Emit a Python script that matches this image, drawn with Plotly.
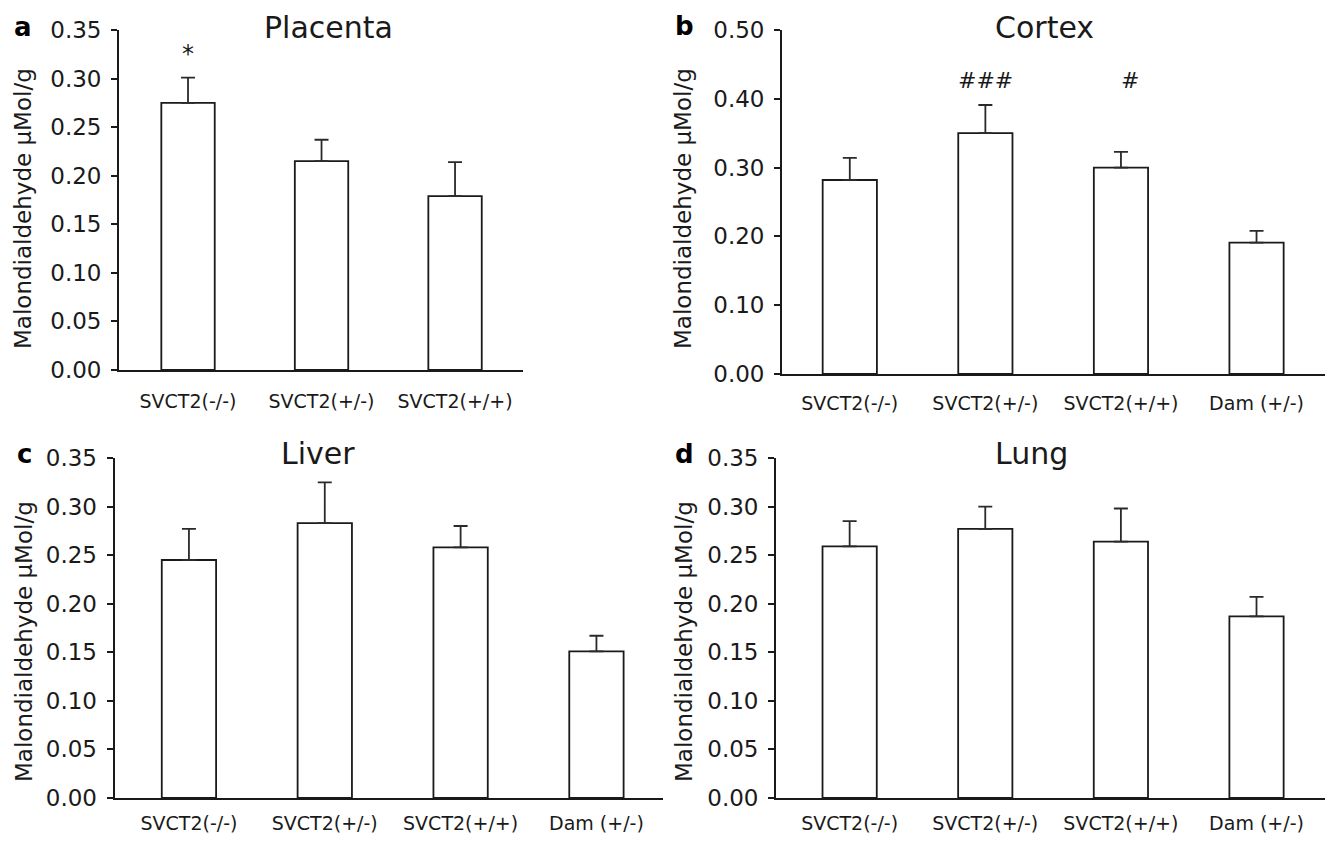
import plotly.graph_objects as go

# ---------------- data ----------------
categories_3 = ["SVCT2(-/-)", "SVCT2(+/-)", "SVCT2(+/+)"]
categories_4 = ["SVCT2(-/-)", "SVCT2(+/-)", "SVCT2(+/+)", "Dam (+/-)"]

placenta_mean = [0.275, 0.215, 0.179]
placenta_sem = [0.026, 0.022, 0.035]

cortex_mean = [0.282, 0.350, 0.300, 0.191]
cortex_sem = [0.032, 0.041, 0.023, 0.017]

liver_mean = [0.245, 0.283, 0.258, 0.151]
liver_sem = [0.032, 0.042, 0.022, 0.016]

lung_mean = [0.259, 0.277, 0.264, 0.187]
lung_sem = [0.026, 0.023, 0.034, 0.020]

y_ticks_035 = [0.00, 0.05, 0.10, 0.15, 0.20, 0.25, 0.30, 0.35]
y_ticks_050 = [0.00, 0.10, 0.20, 0.30, 0.40, 0.50]

y_title = "Malondialdehyde μMol/g"

# ---------------- layout helpers ----------------
PAGE_MARGIN = 8          # default <body> margin of the html page
FW, FH = 1335 - 2 * PAGE_MARGIN, 844 - 2 * PAGE_MARGIN
FONT = "DejaVu Sans"
INK = "#1a1a1a"


def px_x(v):
    return (v - PAGE_MARGIN) / FW


def px_y(v):
    return 1 - (v - PAGE_MARGIN) / FH


panels = [
    # key, title, letter, categories, mean, sem, yticks, x-range,
    # plot x px, plot y px, title centre, letter centre, ytitle centre, label standoff
    ("", "Placenta", "a", categories_3, placenta_mean, placenta_sem, y_ticks_035,
     [-0.517, 2.509], (119, 523), (30, 370), (328, 28), (23, 27.5), (23, 209), 13),
    ("2", "Cortex", "b", categories_4, cortex_mean, cortex_sem, y_ticks_050,
     [-0.5, 3.505], (782, 1325), (30, 374), (1044, 28), (684, 26.5), (683, 208), 11),
    ("3", "Liver", "c", categories_4, liver_mean, liver_sem, y_ticks_035,
     [-0.548, 3.49], (114.5, 663), (458, 798), (318, 454), (24, 454), (24, 642), 7),
    ("4", "Lung", "d", categories_4, lung_mean, lung_sem, y_ticks_035,
     [-0.543, 3.505], (776, 1325), (458, 798), (1031, 454), (684, 454), (684, 642), 7),
]

fig = go.Figure()
layout = dict(
    template="none",
    width=FW, height=FH,
    margin=dict(l=0, r=0, t=0, b=0, pad=0),
    paper_bgcolor="white", plot_bgcolor="white",
    showlegend=False,
    font=dict(family=FONT, color=INK),
    annotations=[],
)

for (key, title, letter, cats, mean, sem, yticks, xr, (x0, x1), (y0, y1),
     (tx, ty), (lx, ly), (ax, ay), standoff) in panels:
    xs = list(range(len(cats)))
    fig.add_trace(go.Bar(
        x=xs, y=mean, width=0.40,
        marker=dict(color="white", line=dict(color=INK, width=1.8)),
        error_y=dict(type="data", symmetric=False, array=sem,
                     arrayminus=[0] * len(sem), color="#2a2a2a",
                     thickness=1.8, width=7),
        xaxis="x" + key, yaxis="y" + key,
    ))
    layout["xaxis" + key] = dict(
        domain=[px_x(x0), px_x(x1)], anchor="y" + key,
        range=xr, tickmode="array", tickvals=xs, ticktext=cats,
        showline=True, linecolor=INK, linewidth=1.8,
        ticks="", showgrid=False, zeroline=False, automargin=False,
        tickfont=dict(family=FONT, size=19, color=INK),
        ticklabelstandoff=standoff, fixedrange=True,
    )
    layout["yaxis" + key] = dict(
        domain=[px_y(y1), px_y(y0)], anchor="x" + key,
        range=[0, yticks[-1]], tickmode="array", tickvals=yticks,
        tickformat=".2f",
        showline=True, linecolor=INK, linewidth=1.8,
        ticks="outside", ticklen=6, tickwidth=1.8, tickcolor=INK,
        showgrid=False, zeroline=False, automargin=False,
        tickfont=dict(family=FONT, size=23, color=INK),
        ticklabelstandoff=5, fixedrange=True,
    )
    # panel title
    layout["annotations"].append(dict(
        text=title, xref="paper", yref="paper",
        x=px_x(tx), y=px_y(ty), xanchor="center", yanchor="middle",
        showarrow=False, font=dict(family=FONT, size=30, color=INK)))
    # panel letter
    layout["annotations"].append(dict(
        text="<b>" + letter + "</b>", xref="paper", yref="paper",
        x=px_x(lx), y=px_y(ly), xanchor="center", yanchor="middle",
        showarrow=False, font=dict(family=FONT, size=26, color="#000")))
    # y-axis title
    layout["annotations"].append(dict(
        text=y_title, xref="paper", yref="paper", textangle=-90,
        x=px_x(ax), y=px_y(ay), xanchor="center", yanchor="middle",
        showarrow=False, font=dict(family=FONT, size=23, color=INK)))

# significance marks
layout["annotations"].append(dict(
    text="*", x=0, y=0.325, xref="x", yref="y", showarrow=False,
    font=dict(family=FONT, size=24, color=INK)))
layout["annotations"].append(dict(
    text="###", x=1, y=0.426, xref="x2", yref="y2", showarrow=False,
    font=dict(family=FONT, size=22, color=INK)))
layout["annotations"].append(dict(
    text="#", x=2.07, y=0.426, xref="x2", yref="y2", showarrow=False,
    font=dict(family=FONT, size=22, color=INK)))

fig.update_layout(**layout)
fig.write_html("out.html")
